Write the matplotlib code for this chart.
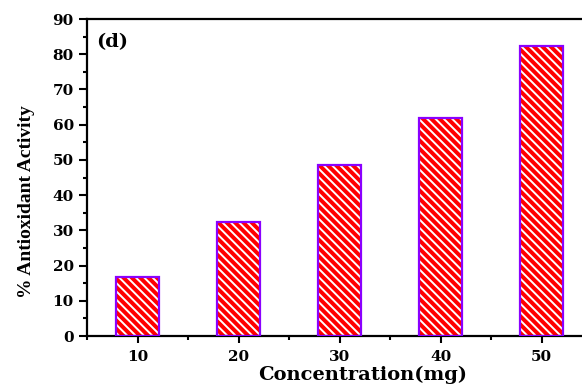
import matplotlib
matplotlib.use("Agg")
import matplotlib.pyplot as plt
from matplotlib.ticker import MultipleLocator

plt.rcParams['font.family'] = ['DejaVu Serif']
plt.rcParams['font.weight'] = 'bold'
plt.rcParams['hatch.linewidth'] = 1.4

# data
concentration = [10, 20, 30, 40, 50]
activity = [16.8, 32.3, 48.5, 61.8, 82.2]
x_ticks = [10, 20, 30, 40, 50]

fig = plt.figure(figsize=(5.82, 3.85), dpi=100)
ax = fig.add_axes([0.1495, 0.127, 0.868, 0.8236])

# red bars with white hatch, then purple outline on top
ax.bar(concentration, activity, width=4.2, color='red', edgecolor='white',
       hatch='\\' * 4, linewidth=0, zorder=2)
ax.bar(concentration, activity, width=4.2, fill=False, edgecolor='#8a00ff',
       linewidth=1.6, zorder=3)

ax.set_xlim(5, 55)
ax.set_ylim(0, 90)
ax.set_xticks(x_ticks)
ax.xaxis.set_minor_locator(MultipleLocator(5))
ax.yaxis.set_major_locator(MultipleLocator(10))
ax.yaxis.set_minor_locator(MultipleLocator(5))

ax.tick_params(which='both', direction='out', width=1.5, labelsize=11)
ax.tick_params(axis='y', which='major', length=6)
ax.tick_params(axis='y', which='minor', length=3)
ax.tick_params(axis='x', which='major', length=5, pad=5)
ax.tick_params(axis='x', which='minor', length=3)
ax.tick_params(top=False, right=False)
for s in ['left', 'bottom', 'top']:
    ax.spines[s].set_linewidth(1.6)
ax.spines['right'].set_visible(False)

ax.set_xlabel('Concentration(mg)', fontsize=14, fontweight='bold')
ax.xaxis.set_label_coords(0.545, -0.092)
ax.set_ylabel('% Antioxidant Activity', fontsize=14, fontweight='bold',
              family='Liberation Serif')
ax.yaxis.set_label_coords(-0.103, 0.423)
ax.text(0.018, 0.912, '(d)', transform=ax.transAxes, fontsize=14, fontweight='bold')

fig.savefig('out.png', dpi=100)
